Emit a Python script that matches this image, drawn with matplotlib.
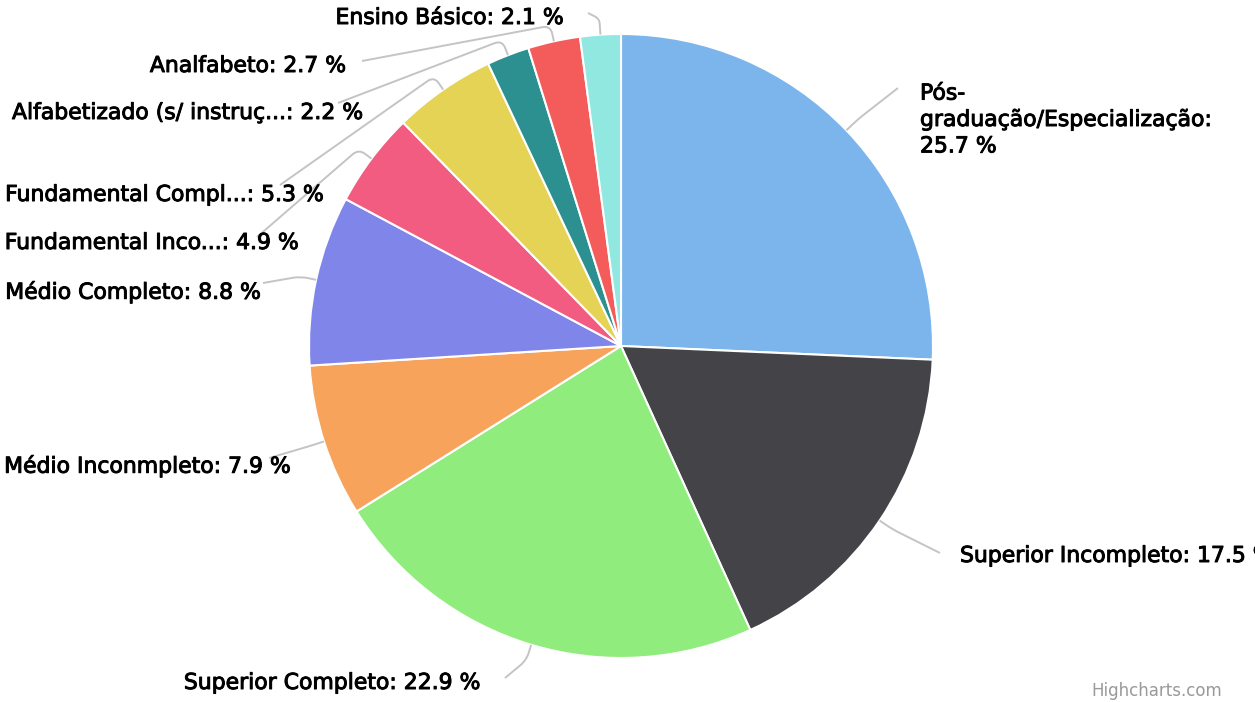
import numpy as np
import matplotlib.pyplot as plt
import matplotlib.patheffects as pe
from matplotlib.path import Path
from matplotlib.patches import PathPatch

# data, clockwise from 12 o'clock
labels = ['Pós-\ngraduação/Especialização:\n', 'Superior Incompleto: ', 'Superior Completo: ',
          'Médio Inconmpleto: ', 'Médio Completo: ', 'Fundamental Inco...: ',
          'Fundamental Compl...: ', 'Alfabetizado (s/ instruç...: ', 'Analfabeto: ', 'Ensino Básico: ']
values = [25.7, 17.5, 22.9, 7.9, 8.8, 4.9, 5.3, 2.2, 2.7, 2.1]
colors = ['#7cb5ec', '#434348', '#90ed7d', '#f7a35c', '#8085e9',
          '#f15c80', '#e4d354', '#2b908f', '#f45b5b', '#91e8e1']

W, H = 1255, 702
cx, cy, R = 621, 346, 312

# label layout in pixels (text anchor x, text y, connector start x, y, side)
lab_pos = [(920, 120, 898, 88, 'l'),
           (960, 556, 940, 553, 'l'),
           (482, 683, 505, 678, 'r'),
           (292, 466, 269, 458, 'r'),
           (262, 292, 263, 283, 'r'),
           (300, 243, 257, 237, 'r'),
           (325, 195, 280, 185, 'r'),
           (365, 113, 338, 103, 'r'),
           (347, 66, 362, 61, 'r'),
           (565, 18, 588, 13, 'r')]

fig = plt.figure(figsize=(W / 100, H / 100), dpi=100)
ax = fig.add_axes([0, 0, 1, 1])
wedges, _ = ax.pie(values, colors=colors, startangle=90, counterclock=False,
                   center=(cx, H - cy), radius=R,
                   wedgeprops=dict(edgecolor='white', linewidth=1.5))
ax.set_xlim(0, W)
ax.set_ylim(0, H)
ax.set_aspect('equal')
ax.axis('off')

bold = [pe.Stroke(linewidth=0.7, foreground='black'), pe.Normal()]

for w, lab, v, (tx, ty, lx, ly, side) in zip(wedges, labels, values, lab_pos):
    th = np.deg2rad((w.theta1 + w.theta2) / 2)
    ex, ey = cx + R * np.cos(th), H - cy + R * np.sin(th)
    bx, by = cx + (R + 16) * np.cos(th), H - cy + (R + 16) * np.sin(th)
    lx, ly = lx, H - ly
    # soften the bend at the break point
    d1 = np.hypot(bx - ex, by - ey)
    d2 = np.hypot(lx - bx, ly - by)
    k = min(8, d1 * 0.6, d2 * 0.4)
    p1 = (bx + (ex - bx) * k / d1, by + (ey - by) * k / d1)
    p2 = (bx + (lx - bx) * k / d2, by + (ly - by) * k / d2)
    path = Path([(ex, ey), p1, (bx, by), p2, (lx, ly)],
                [Path.MOVETO, Path.LINETO, Path.CURVE3, Path.CURVE3, Path.LINETO])
    ax.add_patch(PathPatch(path, fill=False, edgecolor='#c4c4c4', lw=1.4, zorder=1))
    ha = 'left' if side == 'l' else 'right'
    t = ax.text(tx, H - ty, '%s%.1f %%' % (lab, v), ha=ha, va='center', fontsize=15.8,
                color='black', linespacing=1.4, zorder=3)
    t.set_path_effects(bold)

ax.text(1222, H - 691, 'Highcharts.com', ha='right', va='center', fontsize=12, color='#999999')

fig.savefig('out.png', dpi=100)
